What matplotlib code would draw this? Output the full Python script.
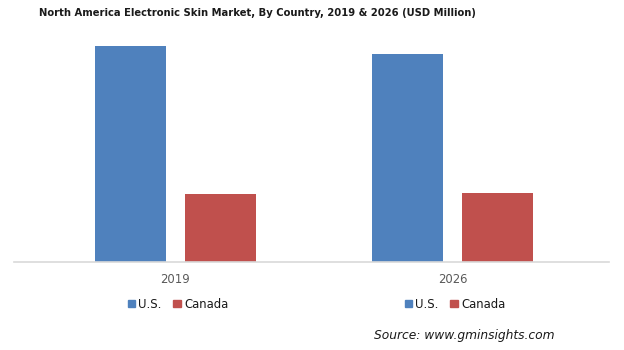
import matplotlib
matplotlib.use("Agg")
import matplotlib.pyplot as plt
from matplotlib.patches import Patch

years = ["2019", "2026"]
countries = ["U.S.", "Canada"]
us_values = [216, 208]
canada_values = [68, 69]
colors = ["#4F81BD", "#C0504D"]

plt.rcParams['font.family'] = ['DejaVu Sans']

fig = plt.figure(figsize=(6.24, 3.5), dpi=100)
ax = fig.add_axes([14/624, 88/350, 595/624, 230/350])

x = [0, 1]
w = 0.256
off = 0.163
ax.bar([xi - off for xi in x], us_values, width=w, color=colors[0], label=countries[0])
ax.bar([xi + off for xi in x], canada_values, width=w, color=colors[1], label=countries[1])

ax.set_xlim(-0.583, 1.565)
ax.set_ylim(0, 230)
ax.set_xticks(x)
ax.set_xticklabels(years, fontsize=8.4, color="#595959")
ax.tick_params(axis='x', length=0, pad=8)
ax.set_yticks([])
for s in ["top", "left", "right"]:
    ax.spines[s].set_visible(False)
ax.spines["bottom"].set_color("#D9D9D9")
ax.spines["bottom"].set_linewidth(1.2)

fig.text(257/624, 1 - 13/350, "North America Electronic Skin Market, By Country, 2019 & 2026 (USD Million)",
         ha="center", va="center", fontsize=8.05, fontweight="bold", fontstretch="condensed",
         family=["DejaVu Sans"], color="#1a1a1a")

handles = [Patch(color=colors[0], label=countries[0]), Patch(color=colors[1], label=countries[1])]
for cx in [178/624, 455/624]:
    leg = fig.legend(handles=handles, loc="center", bbox_to_anchor=(cx, 1 - 304/350),
                     ncol=2, frameon=False, fontsize=8.4, handlelength=0.65, handleheight=0.65,
                     handletextpad=0.25, columnspacing=1.0)
    for t in leg.get_texts():
        t.set_color("#1a1a1a")

fig.text(555/624, 1 - 335/350, "Source: www.gminsights.com", ha="right", va="center",
         fontsize=8.8, style="italic", color="#1a1a1a")

fig.savefig("out.png", dpi=100)
